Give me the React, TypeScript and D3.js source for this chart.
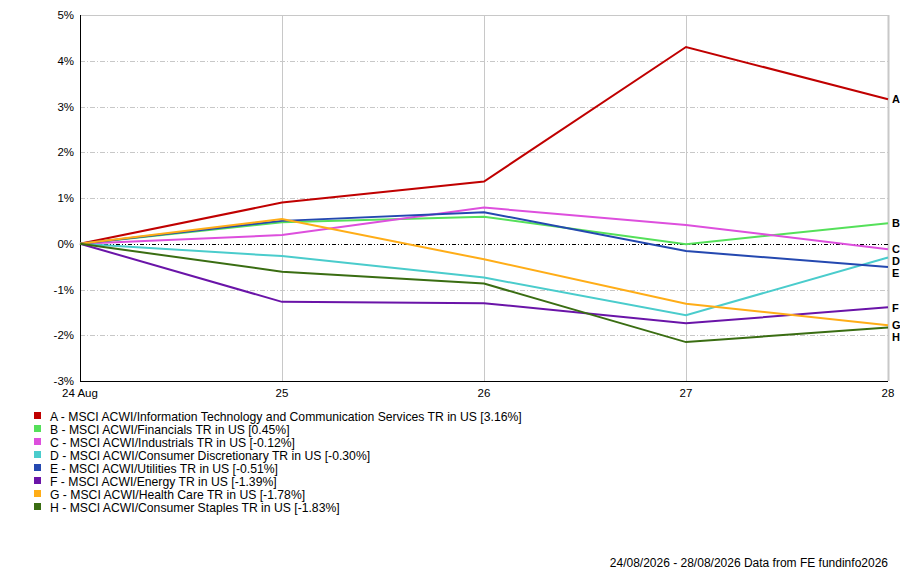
import React, { useEffect, useRef } from 'react';
import * as d3 from 'd3';

const dates = ['24 Aug', '25', '26', '27', '28'];
const yTicks = [-3, -2, -1, 0, 1, 2, 3, 4, 5];

const codes = ['A', 'B', 'C', 'D', 'E', 'F', 'G', 'H'];
const names = [
  'MSCI ACWI/Information Technology and Communication Services TR in US',
  'MSCI ACWI/Financials TR in US',
  'MSCI ACWI/Industrials TR in US',
  'MSCI ACWI/Consumer Discretionary TR in US',
  'MSCI ACWI/Utilities TR in US',
  'MSCI ACWI/Energy TR in US',
  'MSCI ACWI/Health Care TR in US',
  'MSCI ACWI/Consumer Staples TR in US',
];
const colors = ['#c00000', '#55e05a', '#dd4fdd', '#4acccc', '#2448b0', '#6a14a8', '#ffad17', '#3a6d12'];

// % total return, one value per date
const seriesA = [0, 0.9, 1.36, 4.3, 3.16];
const seriesB = [0, 0.47, 0.59, -0.01, 0.45];
const seriesC = [0, 0.19, 0.79, 0.41, -0.12];
const seriesD = [0, -0.27, -0.74, -1.56, -0.3];
const seriesE = [0, 0.5, 0.69, -0.16, -0.51];
const seriesF = [0, -1.27, -1.3, -1.74, -1.39];
const seriesG = [0, 0.54, -0.34, -1.31, -1.78];
const seriesH = [0, -0.61, -0.87, -2.15, -1.83];
const allSeries = [seriesA, seriesB, seriesC, seriesD, seriesE, seriesF, seriesG, seriesH];

const footer = '24/08/2026 - 28/08/2026 Data from FE fundinfo2026';

const Chart: React.FC = () => {
  const svgRef = useRef<SVGSVGElement>(null);

  useEffect(() => {
    if (!svgRef.current) return;
    const svg = d3.select(svgRef.current);
    svg.selectAll('*').remove();

    const width = 900;
    const height = 569;
    const left = 80, right = 888, top = 15, bottom = 381;
    const font = '"Liberation Sans", Arial, sans-serif';

    svg.attr('viewBox', `0 0 ${width} ${height}`).style('font-family', font);

    const x = d3.scalePoint<string>().domain(dates).range([left, right]);
    const y = d3.scaleLinear().domain([-3, 5]).range([bottom, top]);

    // horizontal grid
    svg.append('g')
      .selectAll('line')
      .data(yTicks.filter(t => t !== 0 && t !== 5 && t !== -3))
      .join('line')
      .attr('x1', left).attr('x2', right)
      .attr('y1', d => Math.round(y(d)) + 0.5).attr('y2', d => Math.round(y(d)) + 0.5)
      .attr('stroke', '#c8c8c8')
      .attr('stroke-dasharray', '5,2,1,2');

    // top border
    svg.append('line')
      .attr('x1', left).attr('x2', right)
      .attr('y1', top + 0.5).attr('y2', top + 0.5)
      .attr('stroke', '#c8c8c8');

    // vertical grid
    svg.append('g')
      .selectAll('line')
      .data(dates.slice(1))
      .join('line')
      .attr('x1', d => Math.round(x(d)!) + 0.5).attr('x2', d => Math.round(x(d)!) + 0.5)
      .attr('y1', top).attr('y2', bottom)
      .attr('stroke', '#c8c8c8')
      .attr('stroke-width', (d, i) => (i === dates.length - 2 ? 2 : 1));

    // zero line
    svg.append('line')
      .attr('x1', left).attr('x2', right)
      .attr('y1', Math.round(y(0)) + 0.5).attr('y2', Math.round(y(0)) + 0.5)
      .attr('stroke', '#000')
      .attr('stroke-dasharray', '4,2,1,2,1,2');

    // axes
    svg.append('line')
      .attr('x1', left + 0.5).attr('x2', left + 0.5)
      .attr('y1', top).attr('y2', bottom + 1)
      .attr('stroke', '#000');
    svg.append('line')
      .attr('x1', left).attr('x2', right)
      .attr('y1', bottom + 0.5).attr('y2', bottom + 0.5)
      .attr('stroke', '#000');

    // y tick labels
    svg.append('g')
      .selectAll('text')
      .data(yTicks)
      .join('text')
      .attr('x', 74)
      .attr('y', d => y(d))
      .attr('dy', '0.35em')
      .attr('text-anchor', 'end')
      .attr('font-size', 11.5)
      .text(d => `${d}%`);

    // x tick labels
    svg.append('g')
      .selectAll('text')
      .data(dates)
      .join('text')
      .attr('x', d => x(d)!)
      .attr('y', 397)
      .attr('text-anchor', 'middle')
      .attr('font-size', 11.5)
      .text(d => d);

    // lines
    const line = d3.line<number>()
      .x((d, i) => x(dates[i])!)
      .y(d => y(d));

    svg.append('g')
      .selectAll('path')
      .data(allSeries)
      .join('path')
      .attr('d', d => line(d))
      .attr('fill', 'none')
      .attr('stroke', (d, i) => colors[i])
      .attr('stroke-width', 2);

    // end labels with simple collision avoidance
    const ends = allSeries
      .map((s, i) => ({ code: codes[i], y: y(s[s.length - 1]) }))
      .sort((a, b) => a.y - b.y);
    for (let i = 1; i < ends.length; i++) {
      if (ends[i].y < ends[i - 1].y + 12) ends[i].y = ends[i - 1].y + 12;
    }
    svg.append('g')
      .selectAll('text')
      .data(ends)
      .join('text')
      .attr('x', 892)
      .attr('y', d => d.y)
      .attr('dy', '0.38em')
      .attr('font-size', 11)
      .attr('font-weight', 'bold')
      .text(d => d.code);

    // legend
    const legend = svg.append('g')
      .selectAll('g')
      .data(codes)
      .join('g')
      .attr('transform', (d, i) => `translate(34,${412 + i * 13})`);
    legend.append('rect')
      .attr('width', 7).attr('height', 7)
      .attr('fill', (d, i) => colors[i]);
    legend.append('text')
      .attr('x', 16)
      .attr('y', 4.5)
      .attr('dy', '0.38em')
      .attr('font-size', 12.2)
      .text((d, i) => {
        const s = allSeries[i];
        return `${d} - ${names[i]} [${s[s.length - 1].toFixed(2)}%]`;
      });

    // footer
    svg.append('text')
      .attr('x', 888)
      .attr('y', 567)
      .attr('text-anchor', 'end')
      .attr('font-size', 12)
      .text(footer);
  }, []);

  return (
    <svg
      ref={svgRef}
      width={900}
      height={569}
      style={{ position: 'absolute', left: 0, top: 0, background: '#fff' }}
    ></svg>
  );
};

export default function App() {
  return <Chart />;
}
